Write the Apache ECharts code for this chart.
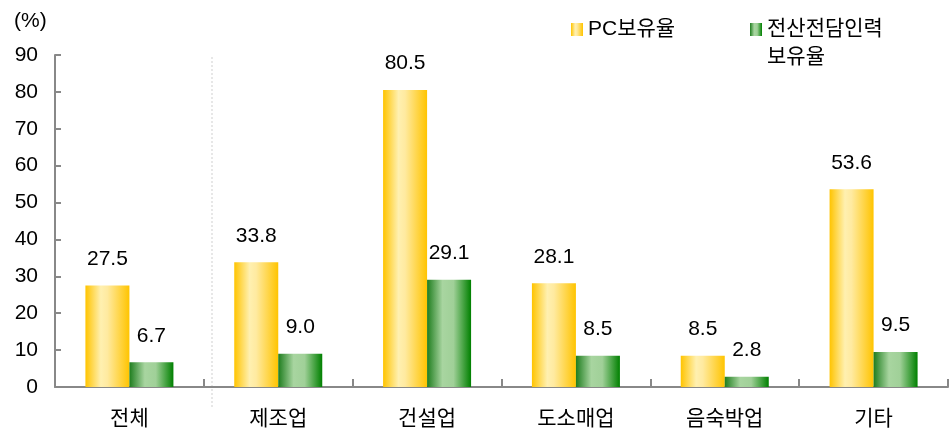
<!DOCTYPE html>
<html>
<head>
<meta charset="utf-8">
<script src="https://cdn.jsdelivr.net/npm/echarts@6/dist/echarts.min.js"></script>
<style>
  html, body { margin: 0; padding: 0; background: #fff; }
  #chart { width: 952px; height: 435px; }
</style>
</head>
<body>
<div id="chart"></div>
<script>
const categories = ['전체', '제조업', '건설업', '도소매업', '음숙박업', '기타']
const pcRate = [27.5, 33.8, 80.5, 28.1, 8.5, 53.6]
const staffRate = [6.7, 9.0, 29.1, 8.5, 2.8, 9.5]
const seriesNames = ['PC보유율', '전산전담인력\n보유율']

const font = 'Liberation Sans, Arial, Noto Sans CJK KR, sans-serif'

const yellow = new echarts.graphic.LinearGradient(0, 0, 1, 0, [
  { offset: 0, color: '#ffc400' },
  { offset: 0.35, color: '#fff0b0' },
  { offset: 0.5, color: '#ffeaa0' },
  { offset: 1, color: '#ffc400' }
])
const green = new echarts.graphic.LinearGradient(0, 0, 1, 0, [
  { offset: 0, color: '#1e7d1e' },
  { offset: 0.35, color: '#a8d5a0' },
  { offset: 0.6, color: '#a0d098' },
  { offset: 1, color: '#008000' }
])

const labelStyle = {
  show: true,
  position: 'top',
  distance: 16,
  color: '#000',
  fontSize: 21,
  fontFamily: font,
  formatter: p => p.value.toFixed(1)
}

const legendText = { fontSize: 21, fontFamily: font, color: '#000' }

const option = {
  backgroundColor: '#fff',
  animation: false,
  grid: { left: 55, right: 4, top: 55, bottom: 48 },
  legend: [{
    left: 566,
    top: 14,
    icon: 'rect',
    itemWidth: 12,
    itemHeight: 13,
    data: [seriesNames[0]],
    textStyle: legendText
  }, {
    // 두 줄 이름: 아이콘은 첫 줄에 맞추고 둘째 줄은 graphic 텍스트로
    left: 745,
    top: 14,
    icon: 'rect',
    itemWidth: 12,
    itemHeight: 13,
    data: [seriesNames[1]],
    formatter: name => name.split('\n')[0],
    textStyle: legendText
  }],
  graphic: [{
    type: 'text',
    left: 14,
    top: 11,
    style: { text: '(%)', fontSize: 21, fontFamily: font, fill: '#000' }
  }, {
    type: 'text',
    left: 767,
    top: 47,
    style: { text: seriesNames[1].split('\n')[1], fontSize: 21, fontFamily: font, fill: '#000' }
  }, {
    type: 'line',
    shape: { x1: 212, y1: 57, x2: 212, y2: 408 },
    style: { stroke: '#d0d0d0', lineWidth: 1, lineDash: [2, 2] }
  }],
  xAxis: {
    type: 'category',
    data: categories,
    axisLine: { lineStyle: { color: '#888', width: 2 } },
    axisTick: { show: true, inside: true, length: 8, lineStyle: { color: '#888', width: 2 } },
    axisLabel: { color: '#000', fontSize: 21, fontFamily: font, margin: 22 }
  },
  yAxis: {
    type: 'value',
    min: 0,
    max: 90,
    interval: 10,
    axisLine: { show: true, lineStyle: { color: '#888', width: 2 } },
    axisTick: { show: true, inside: true, length: 6, lineStyle: { color: '#888', width: 2 } },
    axisLabel: { color: '#000', fontSize: 21, fontFamily: font, margin: 17 },
    splitLine: { show: false }
  },
  series: [{
    name: seriesNames[0],
    type: 'bar',
    data: pcRate,
    barWidth: 44,
    barGap: '0%',
    itemStyle: { color: yellow },
    label: labelStyle
  }, {
    name: seriesNames[1],
    type: 'bar',
    data: staffRate,
    barWidth: 44,
    barGap: '0%',
    itemStyle: { color: green },
    label: labelStyle
  }]
}

const chart = echarts.init(document.getElementById('chart'))
chart.setOption(option)
</script>
</body>
</html>
